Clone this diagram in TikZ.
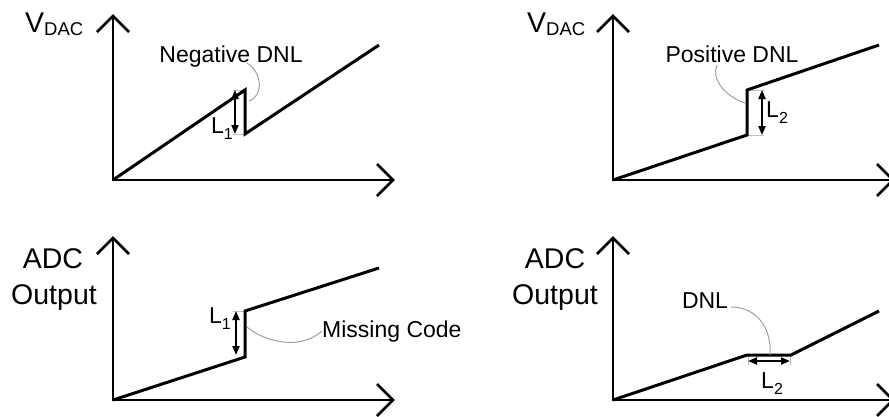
\documentclass[tikz,border=0pt]{standalone}
\usepackage{fontspec}
\setmainfont{Liberation Sans}
\usetikzlibrary{arrows.meta,calc}

\begin{document}
\begin{tikzpicture}[x=1pt,y=-1pt,
  curve/.style={line width=3pt, line join=miter},
  axis/.style={line width=2.6pt},
  bracket/.style={gray!50, line width=1pt},
  leader/.style={gray!75, line width=1pt},
  span/.style={line width=2pt,
    {Triangle[length=9pt,width=7pt]}-{Triangle[length=9pt,width=7pt]}},
  axislabel/.style={font=\fontsize{28.5}{30}\selectfont, inner sep=0pt, anchor=base},
  note/.style={font=\fontsize{23}{25}\selectfont, inner sep=0pt, anchor=base},
  lenlabel/.style={font=\fontsize{23}{25}\selectfont, inner sep=0pt, anchor=base west},
]
\useasboundingbox (0,0) rectangle (889,416);

% four pairs of axes with open arrowheads
\foreach \n/\ox/\oy/\ty in {tl/113/180/16, tr/613/180/16, bl/113/400/238, br/613/400/238} {
  \coordinate (\n-o) at (\ox,\oy);
  \coordinate (\n-y) at (\ox,\ty);
  \coordinate (\n-x) at (\ox+280,\oy);
  \draw[axis] (\n-y) -- (\n-o) -- (\n-x);
  \draw[axis] ($(\n-y)+(-16,16)$) -- (\n-y) -- ($(\n-y)+(16,16)$);
  \draw[axis] ($(\n-x)+(-16,-16)$) -- (\n-x) -- ($(\n-x)+(-16,16)$);
}

% axis labels
\newcommand{\vdaclabel}{V\raisebox{-3pt}{\fontsize{18.5}{19}\selectfont DAC}}
\newcommand{\sublen}[1]{\raisebox{-6pt}{\fontsize{16}{17}\selectfont #1}}
\node[axislabel, anchor=base west] (tl-lab) at (25,32) {\vdaclabel};
\node[axislabel, anchor=base west] (tr-lab) at (527,32) {\vdaclabel};
\node[axislabel] (bl-lab1) at (53,268) {ADC};
\node[axislabel] (bl-lab2) at (54,304) {Output};
\node[axislabel] (br-lab1) at (555,268) {ADC};
\node[axislabel] (br-lab2) at (555,304) {Output};

% ---- top left: negative DNL ----
\coordinate (tl-a) at (245,90);
\coordinate (tl-b) at (245,134);
\coordinate (tl-c) at (379,45);
\coordinate (tl-k1) at (233,90);
\coordinate (tl-k2) at (233,134);
\coordinate (tl-s1) at (235,90);
\coordinate (tl-s2) at (235,134);
\draw[bracket] (tl-k1) -- (tl-a) (tl-k2) -- (tl-b);
\draw[span] (tl-s1) -- (tl-s2);
\draw[curve] (tl-o) -- (tl-a) -- (tl-b) -- (tl-c);
\node[note] (tl-note) at (231,62) {Negative DNL};
\coordinate (tl-lead) at (249,101);
\draw[leader] (247,63) .. controls (262,72) and (264,96) .. (tl-lead);
\node[lenlabel] (tl-len) at (211,133) {L\sublen{1}};

% ---- top right: positive DNL ----
\coordinate (tr-a) at (747,135);
\coordinate (tr-b) at (747,90);
\coordinate (tr-c) at (879,45);
\coordinate (tr-k1) at (764,135);
\coordinate (tr-k2) at (764,90);
\coordinate (tr-s1) at (762,90);
\coordinate (tr-s2) at (762,135);
\draw[bracket] (tr-a) -- (tr-k1) (tr-b) -- (tr-k2);
\draw[span] (tr-s1) -- (tr-s2);
\draw[curve] (tr-o) -- (tr-a) -- (tr-b) -- (tr-c);
\node[note] (tr-note) at (732,62) {Positive DNL};
\coordinate (tr-lead) at (745,103);
\draw[leader] (717,65) .. controls (711,78) and (724,96) .. (tr-lead);
\node[lenlabel] (tr-len) at (766,117) {L\sublen{2}};

% ---- bottom left: missing code ----
\coordinate (bl-a) at (245,357);
\coordinate (bl-b) at (245,311);
\coordinate (bl-c) at (379,268);
\coordinate (bl-k1) at (233,311);
\coordinate (bl-s1) at (236,311);
\coordinate (bl-s2) at (236,355);
\draw[bracket] (bl-k1) -- (bl-b);
\draw[span] (bl-s1) -- (bl-s2);
\draw[curve] (bl-o) -- (bl-a) -- (bl-b) -- (bl-c);
\node[note, anchor=base west] (bl-note) at (322,337) {Missing Code};
\coordinate (bl-lead) at (247,327);
\draw[leader] (bl-lead) .. controls (262,340) and (298,352) .. (bl-note.west);
\node[lenlabel] (bl-len) at (209,323) {L\sublen{1}};

% ---- bottom right: wide code ----
\coordinate (br-a) at (747,355);
\coordinate (br-b) at (791,355);
\coordinate (br-c) at (879,311);
\coordinate (br-k1) at (748,365);
\coordinate (br-k2) at (790,365);
\coordinate (br-s1) at (748,361);
\coordinate (br-s2) at (790,361);
\draw[bracket] (748,355) -- (br-k1) (790,355) -- (br-k2);
\draw[span] (br-s1) -- (br-s2);
\draw[curve] (br-o) -- (br-a) -- (br-b) -- (br-c);
\node[note] (br-note) at (705,308) {DNL};
\coordinate (br-lead) at (770,355);
\draw[leader] (731,307) .. controls (758,307) and (772,330) .. (br-lead);
\node[lenlabel] (br-len) at (761,388) {L\sublen{2}};
\end{tikzpicture}
\end{document}
